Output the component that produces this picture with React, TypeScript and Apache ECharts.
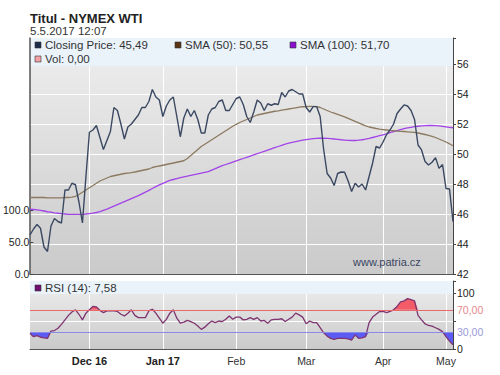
import React, { useEffect, useRef } from "react";
import * as echarts from "echarts";

// Closing price (right axis, USD)
const closing = [
  44.6, 45.0, 45.3, 45.05, 43.8, 43.5, 45.2, 45.7, 45.5, 45.4,
  47.6, 47.6, 48.05, 47.95, 46.8, 45.4, 48.5, 51.45, 51.6, 51.9,
  51.1, 50.3, 50.9, 51.5, 53.1, 52.9, 52.0, 51.0, 51.8, 52.0,
  52.3, 52.6, 53.1, 53.1, 53.5, 54.3, 53.8, 53.6, 52.5, 53.2,
  53.6, 53.8, 52.5, 51.15, 52.4, 53.0, 52.5, 52.9, 52.3, 51.4,
  51.4, 52.6, 53.0, 53.1, 53.5, 53.6, 52.9, 52.9, 53.3, 53.7,
  53.8, 53.3, 52.5, 52.1, 52.8, 53.6, 53.4, 52.9, 53.35, 53.25,
  53.35, 53.3, 54.1, 53.8, 54.2, 54.3, 54.15, 54.0, 54.0, 53.1,
  52.8, 53.16, 53.16, 52.5, 50.3, 48.7, 48.4, 47.9, 48.7, 48.8,
  48.78, 48.2, 47.5, 48.05, 47.8, 48.0, 47.6, 48.5, 49.4, 50.5,
  50.4, 50.8, 51.3, 51.6, 52.0, 52.7, 53.0, 53.27, 53.2, 52.9,
  52.3, 50.6, 50.27, 49.5, 49.27, 49.45, 49.76, 49.04, 49.3, 47.7,
  47.67, 45.49,
];

const sma50 = [
  47.1, 47.1, 47.1, 47.1, 47.1, 47.08, 47.08, 47.08, 47.08, 47.08,
  47.1, 47.1, 47.12, 47.18, 47.3, 47.45, 47.6, 47.75, 47.9, 48.05,
  48.2, 48.3, 48.4, 48.5, 48.55, 48.6, 48.65, 48.7, 48.73, 48.76,
  48.8, 48.85, 48.9, 48.95, 49.0, 49.1, 49.16, 49.2, 49.25, 49.3,
  49.35, 49.4, 49.45, 49.5, 49.55, 49.7, 49.9, 50.1, 50.3, 50.5,
  50.65, 50.8, 50.95, 51.1, 51.25, 51.4, 51.55, 51.7, 51.85, 51.98,
  52.1, 52.2, 52.3, 52.4, 52.5, 52.6, 52.65, 52.7, 52.75, 52.8,
  52.85, 52.88, 52.92, 52.96, 53.0, 53.04, 53.08, 53.12, 53.15, 53.16,
  53.17, 53.17, 53.16, 53.1, 53.0, 52.9, 52.8, 52.72, 52.64, 52.56,
  52.48, 52.38, 52.28, 52.18, 52.08, 51.98, 51.88, 51.8, 51.75, 51.7,
  51.66, 51.63, 51.6, 51.57, 51.55, 51.53, 51.51, 51.5, 51.48, 51.46,
  51.44, 51.4, 51.35, 51.3, 51.24, 51.18, 51.1, 51.0, 50.9, 50.8,
  50.68, 50.55,
];

const sma100 = [
  46.33, 46.3, 46.27, 46.24, 46.2, 46.15, 46.12, 46.08, 46.05, 46.02,
  46.0, 45.98, 45.97, 45.97, 45.97, 45.98, 46.0, 46.03, 46.06, 46.1,
  46.16, 46.24, 46.32, 46.42, 46.52, 46.62, 46.72, 46.82, 46.92, 47.02,
  47.12, 47.22, 47.34, 47.46, 47.58, 47.7, 47.82, 47.94, 48.04, 48.14,
  48.24, 48.3, 48.36, 48.42, 48.47, 48.52, 48.57, 48.62, 48.67, 48.72,
  48.77, 48.82, 48.92, 49.02, 49.12, 49.22, 49.3, 49.38, 49.46, 49.54,
  49.62, 49.7, 49.78, 49.86, 49.94, 50.02, 50.1, 50.18, 50.26, 50.34,
  50.42, 50.5, 50.58, 50.66, 50.72, 50.78, 50.83, 50.88, 50.92, 50.96,
  50.99, 51.02, 51.04, 51.05, 51.05, 51.04, 51.02, 51.0, 50.98, 50.95,
  50.93, 50.91, 50.9, 50.9, 50.92, 50.95, 50.99, 51.04, 51.1, 51.16,
  51.22, 51.28, 51.35, 51.42, 51.49, 51.56, 51.63, 51.69, 51.74, 51.78,
  51.82, 51.85, 51.87, 51.89, 51.9, 51.9, 51.89, 51.87, 51.84, 51.81,
  51.78, 51.75,
];

const rsi = [
  28, 22, 24, 21, 20, 19, 32, 33, 37, 44,
  52, 60, 66, 70, 62, 52, 64, 70, 76, 75,
  69, 65, 68, 68, 68, 67, 62, 59, 64, 70,
  60, 56, 56, 56, 68, 71, 64, 55, 46, 53,
  64, 70, 55, 46, 48, 51, 49, 46, 41, 35,
  39, 45, 50, 47, 50, 49, 53, 59, 53, 57,
  57, 52, 53, 56, 53, 56, 50, 51, 46, 52,
  53, 53, 54, 49, 53, 57, 64, 61, 57, 45,
  50, 47, 47, 38, 29, 23, 19, 17, 19, 19,
  19, 18, 16, 25, 19, 20, 22, 47, 57, 62,
  67, 67, 65, 67, 70, 76, 84, 86, 90, 88,
  86, 60, 52, 45, 42, 41, 38, 35, 31, 22,
  14, 7.58,
];

// Month labels at trading-day positions
const monthLabels: Record<number, string> = {
  17: "Dec 16",
  38: "Jan 17",
  59: "Feb",
  79: "Mar",
  101: "Apr",
  119: "May",
};
const boldMonths = [17, 38];

const priceTicks = [42, 44, 46, 48, 50, 52, 54, 56];
const volTicks = [0, 50, 100];
const rsiOverbought = 70;
const rsiOversold = 30;

const legendMain = [
  { label: "Closing Price: 45,49", color: "#1c2b4c" },
  { label: "SMA (50): 50,55", color: "#5a3414" },
  { label: "SMA (100): 51,70", color: "#8a10d0" },
  { label: "Vol: 0,00", color: "#f2a0a4" },
];

const FONT = "'Liberation Sans', Arial, sans-serif";

export default function App() {
  const ref = useRef<HTMLDivElement>(null);

  useEffect(() => {
    if (!ref.current) return;
    const chart = echarts.init(ref.current, null, { renderer: "svg" });
    const cats = closing.map((_, i) => String(i));
    const isMonth = (i: number) => monthLabels[i] !== undefined;

    const bgGrad = () =>
      new echarts.graphic.LinearGradient(0, 0, 0, 1, [
        { offset: 0, color: "#efefef" },
        { offset: 1, color: "#cacaca" },
      ]);

    const L = 30;
    const W = 423;
    const mainTop = 38;
    const mainH = 236;
    const rsiTop = 281;
    const rsiH = 68;
    const priceMax = 42 + mainH / 15;
    const rsiMax = rsiH / 0.56;

    const legendX = [35, 175, 290, 35];
    const legendY = [45, 45, 45, 59];

    const graphics: any[] = [
      {
        type: "text",
        x: 30,
        y: 18,
        z: 10,
        style: {
          text: "Titul - NYMEX WTI",
          fontFamily: FONT,
          fontSize: 13,
          fontWeight: "bold",
          fill: "#222",
          verticalAlign: "middle",
        },
      },
      {
        type: "text",
        x: 30,
        y: 31,
        z: 10,
        style: {
          text: "5.5.2017 12:07",
          fontFamily: FONT,
          fontSize: 11.5,
          fill: "#333",
          verticalAlign: "middle",
        },
      },
      {
        type: "rect",
        z: 10,
        shape: { x: L + 1, y: mainTop, width: W - 1, height: 28 },
        style: { fill: "#eaf2fa" },
      },
      {
        type: "rect",
        z: 10,
        shape: { x: L, y: rsiTop, width: W, height: 13 },
        style: { fill: "#eaf2fa" },
      },
      {
        type: "rect",
        z: 11,
        shape: { x: 35, y: 285, width: 6, height: 6 },
        style: { fill: "#701070", stroke: "#333", lineWidth: 0.6 },
      },
      {
        type: "text",
        x: 45,
        y: 288,
        z: 11,
        style: {
          text: "RSI (14): 7,58",
          fontFamily: FONT,
          fontSize: 11.5,
          fill: "#333",
          verticalAlign: "middle",
        },
      },
      {
        type: "text",
        x: 353,
        y: 262,
        z: 11,
        style: {
          text: "www.patria.cz",
          fontFamily: FONT,
          fontSize: 11,
          fill: "#3a4664",
          verticalAlign: "middle",
        },
      },
    ];
    legendMain.forEach((it, i) => {
      graphics.push({
        type: "rect",
        z: 11,
        shape: { x: legendX[i], y: legendY[i] - 3, width: 6, height: 6 },
        style: { fill: it.color, stroke: "#333", lineWidth: 0.6 },
      });
      graphics.push({
        type: "text",
        x: legendX[i] + 10,
        y: legendY[i],
        z: 11,
        style: {
          text: it.label,
          fontFamily: FONT,
          fontSize: 11.5,
          fill: "#333",
          verticalAlign: "middle",
        },
      });
    });

    const monthSplit = {
      show: true,
      interval: (i: number) => isMonth(i),
      lineStyle: { color: "#ffffff", width: 1 },
    };

    const option: any = {
      animation: false,
      backgroundColor: "#ffffff",
      textStyle: { fontFamily: FONT },
      graphic: graphics,
      grid: [
        {
          left: L,
          top: mainTop,
          width: W,
          height: mainH,
          show: true,
          backgroundColor: bgGrad(),
          borderWidth: 0,
        },
        {
          left: L,
          top: rsiTop,
          width: W,
          height: rsiH,
          show: true,
          backgroundColor: bgGrad(),
          borderWidth: 0,
        },
        { left: L, top: 210, width: W, height: 64, show: false },
      ],
      xAxis: [
        {
          gridIndex: 0,
          type: "category",
          data: cats,
          boundaryGap: false,
          axisLine: { show: true, lineStyle: { color: "#555", width: 1 } },
          axisTick: { show: false },
          axisLabel: { show: false },
          splitLine: monthSplit,
        },
        {
          gridIndex: 1,
          type: "category",
          data: cats,
          boundaryGap: false,
          axisLine: { show: true, lineStyle: { color: "#555", width: 1 } },
          axisTick: { show: false },
          axisLabel: {
            show: true,
            interval: (i: number) => isMonth(i),
            margin: 6,
            formatter: (_v: string, i: number) => {
              const t = monthLabels[i] || "";
              return boldMonths.includes(i) ? `{b|${t}}` : `{n|${t}}`;
            },
            rich: {
              b: { fontFamily: FONT, fontSize: 11, fontWeight: "bold", color: "#222" },
              n: { fontFamily: FONT, fontSize: 10.5, color: "#333" },
            },
          },
          splitLine: monthSplit,
        },
        {
          gridIndex: 2,
          type: "category",
          data: cats,
          show: false,
        },
      ],
      yAxis: [
        {
          gridIndex: 0,
          type: "value",
          position: "right",
          min: 42,
          max: priceMax,
          interval: 2,
          axisLine: { show: true, lineStyle: { color: "#444", width: 1 } },
          axisTick: { show: true, length: 3, lineStyle: { color: "#444" } },
          axisLabel: {
            margin: 4,
            fontFamily: FONT,
            fontSize: 10.5,
            color: "#222",
            formatter: (v: number) => (priceTicks.includes(v) ? String(v) : ""),
          },
          splitLine: { show: true, lineStyle: { color: "#ffffff", width: 1 } },
        },
        {
          gridIndex: 0,
          type: "value",
          position: "left",
          min: 0,
          max: 1,
          axisLine: { show: true, lineStyle: { color: "#555", width: 1.5 } },
          axisTick: { show: false },
          axisLabel: { show: false },
          splitLine: { show: false },
        },
        {
          gridIndex: 2,
          type: "value",
          position: "left",
          min: 0,
          max: 100,
          interval: 50,
          axisLine: { show: false },
          axisTick: { show: true, length: 3, lineStyle: { color: "#444" } },
          axisLabel: {
            margin: 4,
            fontFamily: FONT,
            fontSize: 10.5,
            color: "#222",
            formatter: (v: number) => (volTicks.includes(v) ? v.toFixed(1) : ""),
          },
          splitLine: { show: false },
        },
        {
          gridIndex: 1,
          type: "value",
          position: "right",
          min: 0,
          max: rsiMax,
          interval: 50,
          axisLine: { show: true, lineStyle: { color: "#444", width: 1 } },
          axisTick: { show: true, length: 3, lineStyle: { color: "#444" } },
          axisLabel: { show: false },
          splitLine: { show: true, lineStyle: { color: "#ffffff", width: 1 } },
        },
        {
          gridIndex: 1,
          type: "value",
          position: "right",
          min: 0,
          max: rsiMax,
          interval: 10,
          axisLine: { show: false },
          axisTick: { show: false },
          splitLine: { show: false },
          axisLabel: {
            margin: 4,
            fontFamily: FONT,
            fontSize: 10.5,
            color: "#222",
            formatter: (v: number) => {
              if (v === 0) return "0";
              if (v === 100) return "100";
              if (v === rsiOverbought) return "{r|70,00}";
              if (v === rsiOversold) return "{u|30,00}";
              return "";
            },
            rich: {
              r: { fontFamily: FONT, fontSize: 10.5, color: "#e58a8a" },
              u: { fontFamily: FONT, fontSize: 10.5, color: "#9a9ad6" },
            },
          },
        },
      ],
      series: [
        {
          type: "line",
          xAxisIndex: 0,
          yAxisIndex: 0,
          data: sma100,
          symbol: "none",
          lineStyle: { color: "#a244e8", width: 1.3 },
          z: 3,
        },
        {
          type: "line",
          xAxisIndex: 0,
          yAxisIndex: 0,
          data: sma50,
          symbol: "none",
          lineStyle: { color: "#8c7a60", width: 1.3 },
          z: 3,
        },
        {
          type: "line",
          xAxisIndex: 0,
          yAxisIndex: 0,
          data: closing,
          symbol: "none",
          lineStyle: { color: "#3a4862", width: 1.4 },
          z: 4,
        },
        {
          type: "line",
          xAxisIndex: 1,
          yAxisIndex: 3,
          stack: "low",
          data: rsi.map((v) => Math.min(v, rsiOversold)),
          symbol: "none",
          lineStyle: { opacity: 0, width: 0 },
          silent: true,
          z: 2,
        },
        {
          type: "line",
          xAxisIndex: 1,
          yAxisIndex: 3,
          stack: "low",
          data: rsi.map((v) => rsiOversold - Math.min(v, rsiOversold)),
          symbol: "none",
          lineStyle: { opacity: 0, width: 0 },
          areaStyle: { color: "#5c5cf4", opacity: 1 },
          silent: true,
          z: 2,
        },
        {
          type: "line",
          xAxisIndex: 1,
          yAxisIndex: 3,
          stack: "high",
          data: rsi.map(() => rsiOverbought),
          symbol: "none",
          lineStyle: { opacity: 0, width: 0 },
          silent: true,
          z: 2,
        },
        {
          type: "line",
          xAxisIndex: 1,
          yAxisIndex: 3,
          stack: "high",
          data: rsi.map((v) => Math.max(v - rsiOverbought, 0)),
          symbol: "none",
          lineStyle: { opacity: 0, width: 0 },
          areaStyle: { color: "#f25c68", opacity: 1 },
          silent: true,
          z: 2,
        },
        {
          type: "line",
          xAxisIndex: 1,
          yAxisIndex: 3,
          data: rsi,
          symbol: "none",
          lineStyle: { color: "#7e3470", width: 1.3 },
          z: 4,
          markLine: {
            silent: true,
            symbol: "none",
            label: { show: false },
            data: [
              { yAxis: rsiOverbought, lineStyle: { color: "#e86a6a", width: 1, type: "solid" } },
              { yAxis: rsiOversold, lineStyle: { color: "#8a8ae8", width: 1, type: "solid" } },
            ],
          },
        },
      ],
    };

    chart.setOption(option);
    return () => chart.dispose();
  }, []);

  return (
    <div
      ref={ref}
      style={{ position: "fixed", left: 0, top: 0, width: 500, height: 375 }}
    />
  );
}
